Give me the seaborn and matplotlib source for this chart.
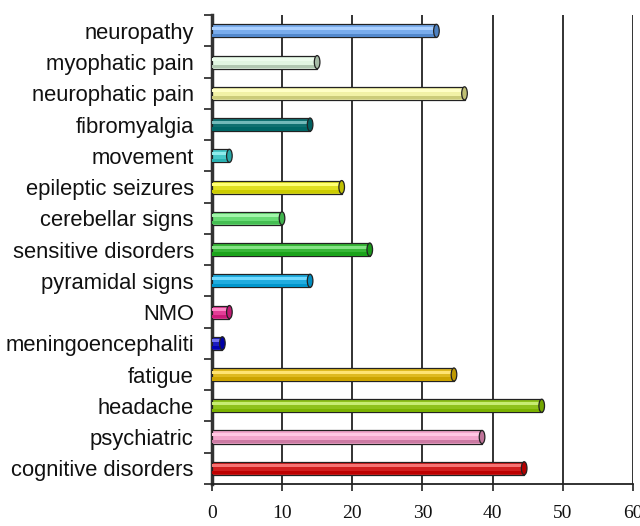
import matplotlib
matplotlib.use("Agg")
import matplotlib.pyplot as plt
import seaborn as sns
import numpy as np
import pandas as pd
from matplotlib.patches import Ellipse
from matplotlib.colors import to_rgb

categories = ["neuropathy", "myophatic pain", "neurophatic pain", "fibromyalgia",
              "movement", "epileptic seizures", "cerebellar signs", "sensitive disorders",
              "pyramidal signs", "NMO", "meningoencephaliti", "fatigue", "headache",
              "psychiatric", "cognitive disorders"]
values = [32, 15, 36, 14, 2.5, 18.5, 10, 22.5, 14, 2.5, 1.5, 34.5, 47, 38.5, 44.5]
colors = ["#66aaff", "#ddfadd", "#ffff99", "#008080", "#33dddd", "#ffff00", "#55ee66",
          "#22cc22", "#00bbff", "#ff2299", "#0000dd", "#ffcc00", "#99dd00", "#ff99cc",
          "#ee0000"]
x_ticks = [0, 10, 20, 30, 40, 50, 60]

sns.set_theme(style="white")
plt.rcParams['font.family'] = ['Liberation Sans', 'DejaVu Sans']

df = pd.DataFrame({"cat": categories, "val": values})

fig = plt.figure(figsize=(6.4, 5.26), dpi=100)
ax = fig.add_axes([0.331, 0.080, 0.658, 0.891])

sns.barplot(data=df, x="val", y="cat", hue="cat", palette=colors, orient="h",
            width=0.42, edgecolor="#222222", linewidth=0.9, legend=False, ax=ax,
            zorder=3)

def darker(c, f=0.6):
    r, g, b = to_rgb(c)
    return (r * f, g * f, b * f)

def lighter(c, f=0.45):
    r, g, b = to_rgb(c)
    return (r + (1 - r) * f, g + (1 - g) * f, b + (1 - b) * f)

for i, (v, c) in enumerate(zip(values, colors)):
    ax.barh(i - 0.08, v, height=0.1, color=lighter(c), linewidth=0, zorder=4)
    ax.barh(i + 0.14, v, height=0.1, color=darker(c, 0.8), linewidth=0, zorder=4)
    ax.add_patch(Ellipse((v, i), width=0.8, height=0.42, facecolor=darker(c, 0.75),
                         edgecolor="#222222", linewidth=0.9, zorder=5))

ax.set_xlim(0, 60)
ax.set_ylim(len(categories) - 0.5, -0.5)
ax.set_xticks(x_ticks)
ax.set_xticklabels([str(t) for t in x_ticks])
ax.set_xlabel("")
ax.set_ylabel("")
ax.tick_params(axis="y", which="major", length=0, labelsize=15.8, pad=13,
               labelcolor="#111111")
ax.set_yticks(np.arange(-0.5, len(categories), 1.0), minor=True)
ax.tick_params(axis="y", which="minor", length=6, width=1.2, color="#222222",
               direction="out", left=True)
ax.tick_params(axis="x", which="major", length=5, width=1.2, color="#222222",
               direction="out", bottom=True, pad=10, labelsize=14,
               labelcolor="#111111")
for lab in ax.get_xticklabels():
    lab.set_family(["Liberation Serif", "DejaVu Serif"])

for t in x_ticks[1:]:
    ax.axvline(t, color="#222222", linewidth=1.3, zorder=1)

for s in ["top", "right"]:
    ax.spines[s].set_visible(False)
ax.spines["left"].set_color("#333333")
ax.spines["left"].set_linewidth(2.5)
ax.spines["bottom"].set_color("#222222")
ax.spines["bottom"].set_linewidth(1.3)
ax.grid(False)

fig.savefig("out.png", dpi=100)
